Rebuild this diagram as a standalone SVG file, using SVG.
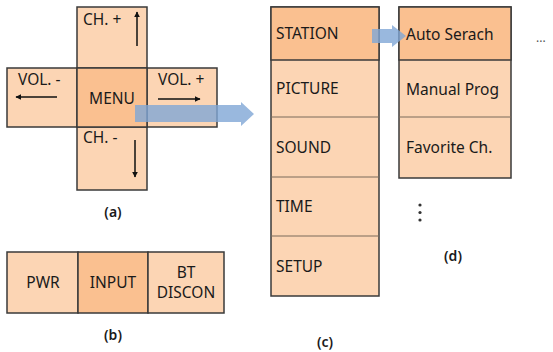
<svg xmlns="http://www.w3.org/2000/svg" width="553" height="352" viewBox="0 0 553 352">
<style>
.l{fill:#fcd5b4;stroke:#3a3a3a;stroke-width:1.5}
.d{fill:#fac090;stroke:#3a3a3a;stroke-width:1.5}
.div{stroke:#7a6a5a;stroke-width:1}
text{font-family:"Noto Sans","DejaVu Sans",sans-serif;font-size:15.5px;fill:#1a1a1a}
.c{text-anchor:middle}
.cap{font-size:14px;font-weight:600;text-anchor:middle}
.ar{stroke:#111;stroke-width:1.5;fill:none}
.blue{fill:#7fa6d6;opacity:0.8}
</style>
<defs>
<marker id="ah" viewBox="0 0 10 10" refX="9" refY="5" markerWidth="6" markerHeight="6" orient="auto" markerUnits="userSpaceOnUse">
<path d="M0,0 L10,5 L0,10 z" fill="#111"/>
</marker>
</defs>

<g id="a">
<g id="ch-plus"><rect class="l" x="77" y="7" width="70" height="61"/><text x="83" y="25">CH. +</text></g>
<g id="vol-minus"><rect class="l" x="7" y="68" width="70" height="59"/><text x="18" y="85">VOL. -</text></g>
<g id="vol-plus"><rect class="l" x="147" y="68" width="70" height="59"/><text x="158" y="85">VOL. +</text></g>
<g id="ch-minus"><rect class="l" x="77" y="127" width="70" height="63"/><text x="83" y="143">CH. -</text></g>
<g id="menu"><rect class="d" x="77" y="68" width="70" height="59"/><text class="c" x="112" y="104">MENU</text></g>
<text class="cap" x="113" y="217">(a)</text>
</g>

<g id="b">
<g id="pwr"><rect class="l" x="7" y="252" width="71" height="61"/><text class="c" x="43" y="288">PWR</text></g>
<g id="input"><rect class="d" x="78" y="252" width="70" height="61"/><text class="c" x="113" y="288">INPUT</text></g>
<g id="bt"><rect class="l" x="148" y="252" width="76" height="61"/><text class="c" x="186" y="278">BT</text><text class="c" x="186" y="298">DISCON</text></g>
<text class="cap" x="113" y="340">(b)</text>
</g>

<g id="c">
<rect class="l" x="271" y="7" width="108" height="289"/>
<g id="station"><rect class="d" x="271" y="7" width="108" height="53"/><text x="276" y="39">STATION</text></g>
<g id="picture"><text x="276" y="94">PICTURE</text></g>
<g id="sound"><text x="276" y="153">SOUND</text></g>
<g id="time"><text x="276" y="212">TIME</text></g>
<g id="setup"><text x="276" y="272">SETUP</text></g>
<line class="div" x1="271" y1="117" x2="379" y2="117"/>
<line class="div" x1="271" y1="177" x2="379" y2="177"/>
<line class="div" x1="271" y1="236" x2="379" y2="236"/>
<text class="cap" x="325" y="347">(c)</text>
</g>

<g id="d">
<rect class="l" x="399" y="7" width="112" height="171"/>
<g id="auto"><rect class="d" x="399" y="7" width="112" height="53"/><text x="406" y="40">Auto Serach</text></g>
<g id="manual"><text x="406" y="95">Manual Prog</text></g>
<g id="fav"><text x="406" y="153">Favorite Ch.</text></g>
<line class="div" x1="399" y1="117" x2="511" y2="117" stroke="#333"/>
<text x="536" y="42" style="font-size:12px;fill:#555">...</text>
<circle cx="420" cy="205" r="1.6" fill="#333"/>
<circle cx="420" cy="212.5" r="1.6" fill="#333"/>
<circle cx="420" cy="220" r="1.6" fill="#333"/>
<text class="cap" x="453" y="261">(d)</text>
</g>

<g id="connectors">
<line class="ar" x1="137" y1="46" x2="137" y2="12" marker-end="url(#ah)"/>
<line class="ar" x1="57" y1="97" x2="16" y2="97" marker-end="url(#ah)"/>
<line class="ar" x1="158" y1="99" x2="200" y2="99" marker-end="url(#ah)"/>
<line class="ar" x1="135" y1="140" x2="135" y2="177" marker-end="url(#ah)"/>
<path class="blue" d="M135,105 L241,105 L241,102 L254,114 L241,126 L241,122 L135,122 Z"/>
<path class="blue" d="M372,29 L392,29 L392,25 L406,36 L392,47 L392,43 L372,43 Z"/>
</g>
</svg>
